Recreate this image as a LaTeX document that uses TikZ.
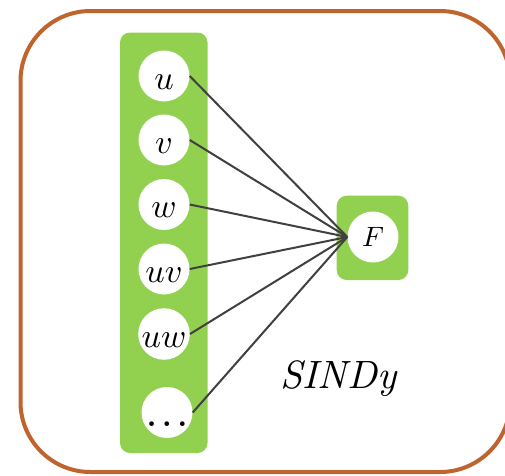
\documentclass[tikz,border=0pt]{standalone}
\usepackage{graphicx}
\usepackage{tikz}
\definecolor{framebrown}{HTML}{BF642C}
\definecolor{boxgreen}{HTML}{92D050}
\definecolor{linegray}{HTML}{404040}
\newcommand{\bigmath}[2]{\scalebox{#1}{$#2$}}
\tikzset{
  frame/.style={draw=framebrown, line width=4pt, rounded corners=70pt},
  greenbox/.style={fill=boxgreen, rounded corners=10pt},
  var/.style={circle, fill=white, minimum size=51pt, inner sep=0pt,
    text height=26pt, text depth=0pt},
  outnode/.style={circle, fill=white, minimum size=51pt, inner sep=0pt},
  conn/.style={draw=linegray, line width=2pt},
}
\begin{document}
\begin{tikzpicture}[x=1pt, y=-1pt]
\useasboundingbox (0,0) rectangle (505,475);
\draw[frame] (20.5,11) rectangle (510,472);
\fill[greenbox] (120,32.5) rectangle (207.5,453);
\fill[greenbox] (336.7,195.7) rectangle (408.3,280);
\node[var] (u) at (164,76) {\bigmath{3.4}{u}};
\node[var] (v) at (164,140) {\bigmath{3.4}{v}};
\node[var] (w) at (164,204.5) {\bigmath{3.4}{w}};
\node[var] (uv) at (164,269) {\bigmath{3.4}{uv}};
\node[var] (uw) at (164,334) {\bigmath{3.4}{uw}};
\node[var, text height=28pt] (dots) at (167,412.5) {\scalebox{3.0}{\boldmath$\dots$}};
\node[outnode] (F) at (373,237) {\bigmath{2.8}{F}};
\foreach \n in {u,v,w,uv,uw,dots}
  \draw[conn] (\n.east) -- (F.west);
\node[anchor=base] (sindy) at (339,388) {\scalebox{3.95}{\textit{SINDy}}};
\end{tikzpicture}
\end{document}
